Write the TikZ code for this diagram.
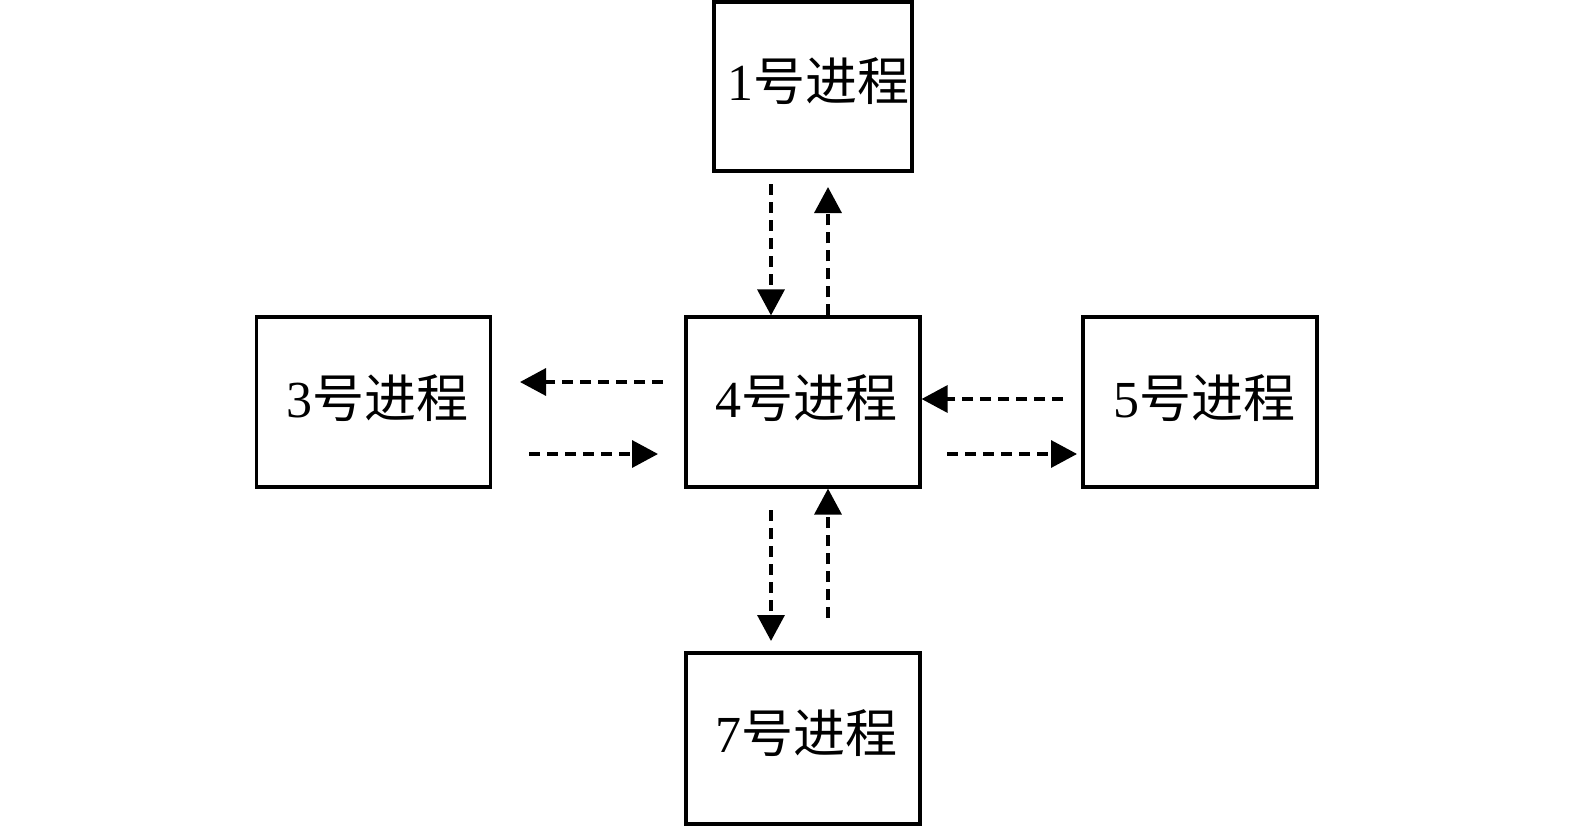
\documentclass[tikz,border=0pt]{standalone}
\usepackage{fontspec}
\setmainfont{Liberation Serif}
\newfontfamily\cjk{Noto Sans CJK SC}
\usetikzlibrary{arrows.meta}
\begin{document}
\begin{tikzpicture}[x=1pt,y=-1pt,
  proc/.style={draw,line width=3.2pt,minimum width=234pt,minimum height=170pt,inner sep=0pt},
  lbl/.style={inner sep=0pt,font=\fontsize{52pt}{52pt}\selectfont},
  flow/.style={line width=3.4pt,dash pattern=on 11pt off 7pt,
    -{Triangle[width=27pt,length=26pt]}}]
\useasboundingbox (0,0) rectangle (1575,825);
\node[proc,minimum width=198pt,minimum height=169pt] (p1) at (813,86.5) {};
\node[proc] (p3) at (373.5,402) {};
\node[proc] (p4) at (803,402) {};
\node[proc] (p5) at (1200,402) {};
\node[proc,minimum height=171pt] (p7) at (803,738.5) {};
\node[lbl] (t1) at ([xshift=5pt,yshift=5pt]p1.center) {1{\cjk 号进程}};
\node[lbl] (t3) at ([xshift=4pt,yshift=4pt]p3.center) {3{\cjk 号进程}};
\node[lbl] (t4) at ([xshift=3pt,yshift=4pt]p4.center) {4{\cjk 号进程}};
\node[lbl] (t5) at ([xshift=4pt,yshift=4pt]p5.center) {5{\cjk 号进程}};
\node[lbl] (t7) at ([xshift=3pt,yshift=5pt]p7.center) {7{\cjk 号进程}};
% top pair
\coordinate (a1) at (771,184);
\coordinate (a2) at (828,187);
\draw[flow] (a1) -- (a1 |- p4.north);
\draw[flow] (a2 |- p4.north) -- (a2);
% left pair
\coordinate (l1s) at (663,382);
\coordinate (l1e) at (520,382);
\coordinate (l2s) at (529,454);
\coordinate (l2e) at (658,454);
\draw[flow] (l1s) -- (l1e);
\draw[flow] (l2s) -- (l2e);
% right pair
\coordinate (r1) at (1063,399);
\coordinate (r2s) at (947,454);
\coordinate (r2e) at (1077,454);
\draw[flow] (r1) -- (r1 -| p4.east);
\draw[flow] (r2s) -- (r2e);
% bottom pair
\coordinate (b1s) at (771,510);
\coordinate (b1e) at (771,641);
\coordinate (b2) at (828,618);
\draw[flow] (b1s) -- (b1e);
\draw[flow] (b2) -- (b2 |- p4.south);
\end{tikzpicture}
\end{document}
